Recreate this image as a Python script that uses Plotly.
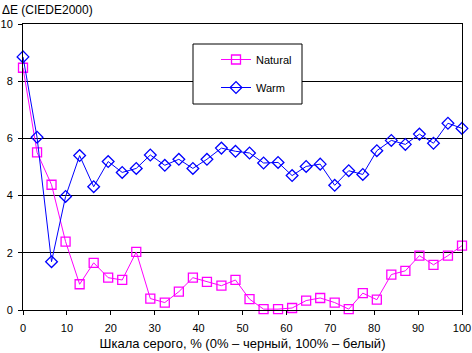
import plotly.graph_objects as go

x_vals = [0, 3.2, 6.5, 9.7, 12.9, 16.1, 19.4, 22.6, 25.8, 29.0, 32.3, 35.5, 38.7, 41.9,
          45.2, 48.4, 51.6, 54.8, 58.1, 61.3, 64.5, 67.7, 71.0, 74.2, 77.4, 80.6,
          83.9, 87.1, 90.3, 93.5, 96.8, 100]
natural = [8.47, 5.51, 4.38, 2.39, 0.90, 1.65, 1.13, 1.05, 2.03, 0.40, 0.26, 0.64, 1.13, 0.98,
           0.85, 1.05, 0.38, 0.03, 0.03, 0.07, 0.33, 0.42, 0.26, 0.03, 0.59, 0.36,
           1.24, 1.37, 1.90, 1.58, 1.90, 2.25]
warm = [8.85, 6.04, 1.69, 3.97, 5.40, 4.31, 5.19, 4.81, 4.95, 5.42, 5.06, 5.27, 4.95, 5.27,
        5.66, 5.55, 5.49, 5.14, 5.16, 4.70, 5.02, 5.10, 4.36, 4.87, 4.74, 5.57,
        5.93, 5.79, 6.15, 5.83, 6.53, 6.35]
x_ticks = list(range(0, 101, 10))
y_ticks = list(range(0, 11, 2))

FONT = "Liberation Sans"
FS = 11

fig = go.Figure()
fig.add_trace(go.Scatter(
    x=x_vals, y=natural, name="Natural", mode="lines+markers", legendgroup="n",
    line=dict(color="#FF00FF", width=1),
    marker=dict(symbol="square-open", size=9, color="#FF00FF", line=dict(width=1.3)),
    cliponaxis=False))
fig.add_trace(go.Scatter(
    x=x_vals, y=warm, name="Warm", mode="lines+markers", legendgroup="w",
    line=dict(color="#0000FF", width=1),
    marker=dict(symbol="diamond-open", size=9, color="#0000FF", line=dict(width=1.3)),
    cliponaxis=False))

W, H = 472, 353
L, R, T, B = 23, 10, 24, 43
pw, ph = W - L - R, H - T - B

def px_x(p):
    return (p - L) / pw

def px_y(p):
    return (H - B - p) / ph

fig.update_layout(
    width=W, height=H,
    margin=dict(l=L, r=R, t=T, b=B, autoexpand=False),
    paper_bgcolor="white", plot_bgcolor="white",
    font=dict(family=FONT, size=FS, color="black"),
    showlegend=True,
    legend=dict(x=px_x(216), y=px_y(45), xanchor="left", yanchor="top",
                bgcolor="rgba(0,0,0,0)", borderwidth=0,
                tracegroupgap=9, font=dict(family=FONT, size=FS)),
    xaxis=dict(range=[0, 100], tickvals=x_ticks, showgrid=False, zeroline=False,
               showline=True, linecolor="black", linewidth=1, mirror=True,
               ticks="outside", ticklen=4, tickcolor="black", automargin=False,
               ticklabelstandoff=4,
               title=dict(text="Шкала серого, % (0% – черный, 100% – белый)", standoff=5),
               fixedrange=True),
    yaxis=dict(range=[0, 10], tickvals=y_ticks, showgrid=True, gridcolor="black", gridwidth=1,
               zeroline=False, showline=True, linecolor="black", linewidth=1, mirror=True,
               ticks="outside", ticklen=4, tickcolor="black", automargin=False,
               ticklabelstandoff=3, fixedrange=True),
    shapes=[dict(type="rect", xref="paper", yref="paper",
                 x0=px_x(193), x1=px_x(302), y0=px_y(104), y1=px_y(44),
                 line=dict(color="black", width=1), fillcolor="white", layer="above")],
    annotations=[dict(text="ΔE (CIEDE2000)", xref="paper", yref="paper",
                      x=px_x(0), y=px_y(1), xanchor="left", yanchor="top",
                      showarrow=False, font=dict(family=FONT, size=FS + 1))],
)

fig.write_html("out.html")
